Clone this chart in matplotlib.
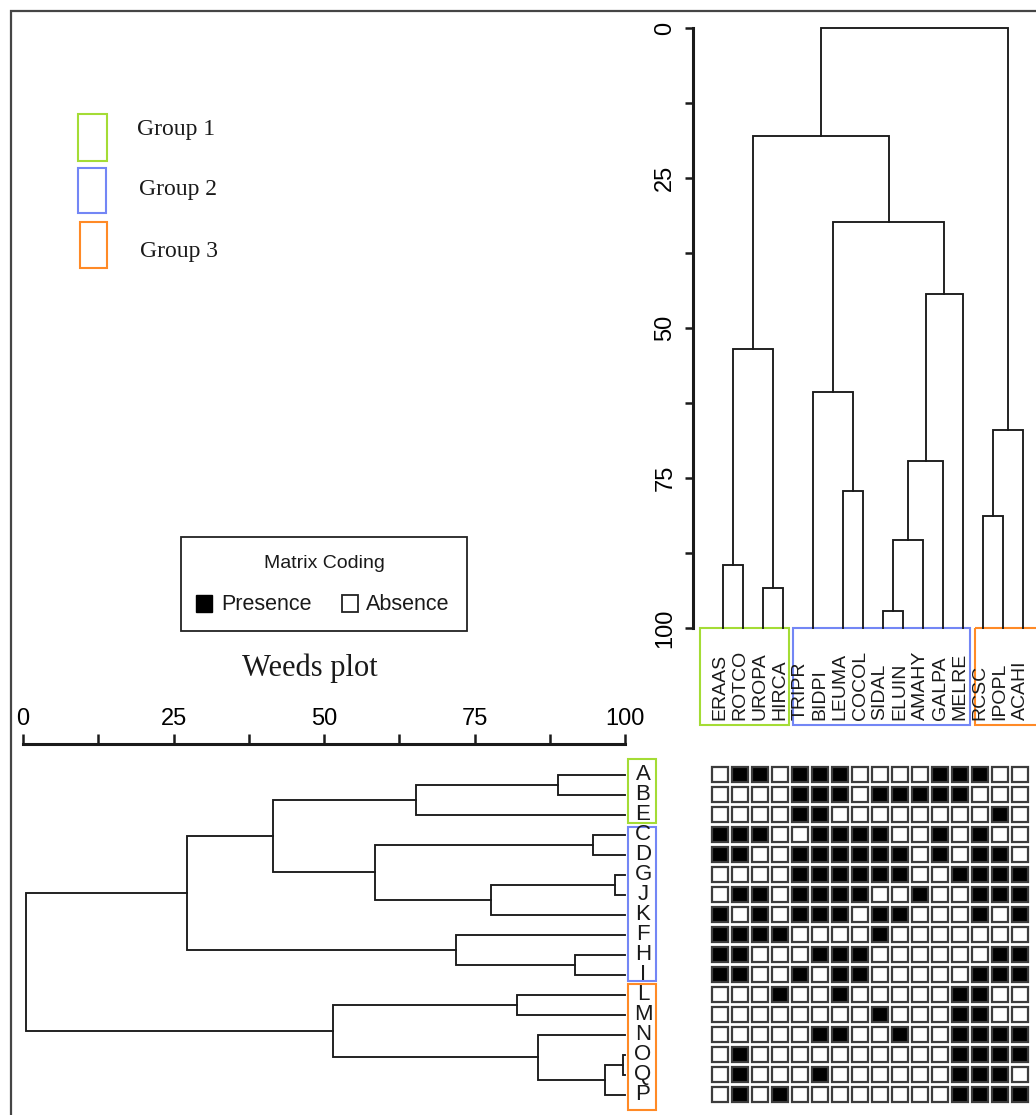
import matplotlib
matplotlib.use("Agg")
import matplotlib.pyplot as plt
from matplotlib.patches import Rectangle
import numpy as np

W, H, DPI = 1036, 1115, 100

# ---------------- data ----------------
species = ["ERAAS", "ROTCO", "UROPA", "HIRCA", "TRIPR", "BIDPI", "LEUMA", "COCOL",
           "SIDAL", "ELUIN", "AMAHY", "GALPA", "MELRE", "RCSC", "IPOPL", "ACAHI"]
species_group = [1, 1, 1, 1, 2, 2, 2, 2, 2, 2, 2, 2, 2, 3, 3, 3]

plots = ["A", "B", "E", "C", "D", "G", "J", "K", "F", "H", "I",
         "L", "M", "N", "O", "Q", "P"]
plot_group = [1, 1, 1, 2, 2, 2, 2, 2, 2, 2, 2, 3, 3, 3, 3, 3, 3]

# presence (1) / absence (0) matrix, rows = plots, cols = species
presence = [
    "0110111000011100",  # A
    "0000111011111000",  # B
    "0000110000000010",  # E
    "1110011110010100",  # C
    "1100111111010110",  # D
    "0000111111001111",  # G
    "0110111100100111",  # J
    "1010111011000101",  # K
    "1111000010000000",  # F
    "1100011100000011",  # H
    "1100101100000111",  # I
    "0001001000001100",  # L
    "0000000010001100",  # M
    "0000011001001111",  # N
    "0100000000001111",  # O
    "0100010000001110",  # Q
    "0101000000001111",  # P
]

# species dendrogram (similarity %), leaves as drawn (in species-column units)
species_leaf_x = [0.15, 1.15, 2.15, 3.15, 4.65, 6.15, 7.15, 8.15,
                  9.15, 10.15, 11.15, 12.15, 13.15, 14.15, 15.15]
species_merges = [(0, 1, 89.5), (2, 3, 93.3), (15, 16, 53.5), (5, 6, 77.1),
                  (4, 18, 60.6), (7, 8, 97.1), (20, 9, 85.4), (21, 10, 72.1),
                  (22, 11, 44.4), (19, 23, 32.3), (17, 24, 18.0), (12, 13, 81.4),
                  (26, 14, 67.0), (25, 27, 0.0)]

# plot dendrogram (similarity %), leaves = rows in `plots` order
plot_merges = [(0, 1, 88.8), (17, 2, 65.2), (3, 4, 94.7), (5, 6, 98.3),
               (20, 7, 77.8), (19, 21, 58.5), (18, 22, 41.6), (9, 10, 91.7),
               (8, 24, 71.9), (23, 25, 27.3), (11, 12, 82.1), (14, 15, 99.6),
               (28, 16, 96.7), (13, 29, 85.5), (27, 30, 51.5), (26, 31, 0.5)]

axis_ticks = [0, 25, 50, 75, 100]
axis_minor = [12.5, 37.5, 62.5, 87.5]

group_names = ["Group 1", "Group 2", "Group 3"]
group_colors = {1: "#a4dc35", 2: "#7386f5", 3: "#ff8a26"}

# ---------------- helpers ----------------
SANS = "Liberation Sans"
SERIF = "Liberation Serif"
INK = "#1a1a1a"

fig = plt.figure(figsize=(W / DPI, H / DPI), dpi=DPI)


def px_axes(x0, x1, y0, y1):
    return fig.add_axes([x0 / W, 1 - y1 / H, (x1 - x0) / W, (y1 - y0) / H])


def lin(p, p1, d1, p2, d2):
    return d1 + (p - p1) * (d2 - d1) / (p2 - p1)


def dendro_paths(leaf_pos, merges, leaf_h=100.0):
    pos = list(leaf_pos)
    hgt = [leaf_h] * len(leaf_pos)
    paths = []
    for a, b, h in merges:
        paths.append(([pos[a], pos[a], pos[b], pos[b]], [hgt[a], h, h, hgt[b]]))
        pos.append((pos[a] + pos[b]) / 2.0)
        hgt.append(h)
    return paths


# column mapping: species column c at px 720 + 20 c ; row k at px 774.5 + 20 k
def col_from_px(p):
    return lin(p, 720, 0, 740, 1)


def row_from_px(p):
    return lin(p, 774.5, 0, 794.5, 1)


# ---------------- overlay (frame, legends, titles) ----------------
ov = fig.add_axes([0, 0, 1, 1])
ov.set_xlim(0, W)
ov.set_ylim(H, 0)
ov.axis("off")
ov.plot([11, 11, W + 5], [H + 5, 11, 11], color="#454545", lw=1.6,
        solid_joinstyle="miter", clip_on=False)

legend_boxes = [(78, 114, 29, 47), (78, 168, 28, 45), (80, 222, 27, 46)]
legend_text_pos = [(137, 129), (139, 190), (140, 252)]
for g, (bx, by, bw, bh), (tx, ty), name in zip([1, 2, 3], legend_boxes,
                                               legend_text_pos, group_names):
    ov.add_patch(Rectangle((bx, by), bw, bh, fill=False,
                           edgecolor=group_colors[g], lw=1.5))
    ov.text(tx, ty, name, fontsize=17, family=SERIF, va="center", ha="left",
            color=INK)

# matrix coding legend
ov.add_patch(Rectangle((181, 537), 286, 94, fill=False, edgecolor="#222222", lw=1.3))
ov.text(324, 564, "Matrix Coding", fontsize=14, family=SANS, ha="center",
        va="center", color=INK)
ov.add_patch(Rectangle((196, 595), 16, 17, facecolor="black", edgecolor="black", lw=1))
ov.text(221, 604, "Presence", fontsize=15.5, family=SANS, ha="left", va="center",
        color=INK)
ov.add_patch(Rectangle((342, 595), 16, 17, facecolor="white", edgecolor="#222222", lw=1.3))
ov.text(366, 604, "Absence", fontsize=15.5, family=SANS, ha="left", va="center",
        color=INK)

ov.text(310, 668, "Weeds plot", fontsize=22, family=SERIF, ha="center",
        va="center", color=INK)

# ---------------- species dendrogram (top right) ----------------
axT = px_axes(693, W, 28, 628)
axT.set_xlim(col_from_px(693), col_from_px(W))
axT.set_ylim(100, 0)
for s in ["top", "right", "bottom"]:
    axT.spines[s].set_visible(False)
axT.spines["left"].set_linewidth(2.2)
axT.spines["left"].set_color(INK)
axT.set_xticks([])
axT.set_yticks(axis_ticks)
axT.set_yticks(axis_minor, minor=True)
axT.set_yticklabels([str(t) for t in axis_ticks], rotation=90, va="center",
                    fontsize=17, family=SANS)
axT.tick_params(axis="y", which="both", direction="out", length=6, width=1.8,
                pad=6, color=INK)
axT.patch.set_alpha(0)

for xs, ys in dendro_paths(species_leaf_x, species_merges):
    axT.plot(xs, ys, color=INK, lw=1.35, clip_on=False, solid_joinstyle="miter")

lab_bottom = lin(720, 28, 0, 628, 100)
box_bottom = lin(725, 28, 0, 628, 100)
for c, name in enumerate(species):
    axT.text(c, lab_bottom, name, rotation=90, ha="center", va="bottom",
             fontsize=14, family=SANS, color=INK, clip_on=False)

species_box_px = {1: (700, 789), 2: (793, 970), 3: (975, W + 10)}
for g, (p0, p1) in species_box_px.items():
    c0, c1 = col_from_px(p0), col_from_px(p1)
    axT.add_patch(Rectangle((c0, 100), c1 - c0, box_bottom - 100, fill=False,
                            edgecolor=group_colors[g], lw=1.5, clip_on=False))

# ---------------- plot dendrogram (bottom left) ----------------
axL = px_axes(23, 625, 744, H)
axL.set_xlim(0, 100)
axL.set_ylim(row_from_px(H), row_from_px(744))
for s in ["left", "right", "bottom"]:
    axL.spines[s].set_visible(False)
axL.spines["top"].set_linewidth(2.2)
axL.spines["top"].set_color(INK)
axL.xaxis.set_ticks_position("top")
axL.set_yticks([])
axL.set_xticks(axis_ticks)
axL.set_xticks(axis_minor, minor=True)
axL.set_xticklabels([str(t) for t in axis_ticks], fontsize=17, family=SANS)
axL.tick_params(axis="x", which="both", direction="out", length=7, width=1.8,
                pad=3, color=INK)
axL.patch.set_alpha(0)

for ys, xs in dendro_paths(list(range(len(plots))), plot_merges):
    axL.plot(xs, ys, color=INK, lw=1.35, clip_on=False, solid_joinstyle="miter")

lab_x = lin(643, 23, 0, 625, 100)
for k, name in enumerate(plots):
    axL.text(lab_x, k, name, ha="center", va="center", fontsize=16,
             family=SANS, color=INK, clip_on=False)

plot_box_px = {1: (759, 823), 2: (827, 981), 3: (984, 1110)}
bx0, bx1 = lin(628, 23, 0, 625, 100), lin(656, 23, 0, 625, 100)
for g, (p0, p1) in plot_box_px.items():
    r0, r1 = row_from_px(p0), row_from_px(p1)
    axL.add_patch(Rectangle((bx0, r0), bx1 - bx0, r1 - r0, fill=False,
                            edgecolor=group_colors[g], lw=1.5, clip_on=False))

# ---------------- presence / absence matrix ----------------
axM = px_axes(700, W, 744, H)
axM.set_xlim(col_from_px(700), col_from_px(W))
axM.set_ylim(row_from_px(H), row_from_px(744))
axM.axis("off")
mat = np.array([[int(ch) for ch in row] for row in presence])
s = 0.76
for k in range(mat.shape[0]):
    for c in range(mat.shape[1]):
        fc = "black" if mat[k, c] else "white"
        axM.add_patch(Rectangle((c - s / 2, k - s / 2), s, s, facecolor=fc,
                                edgecolor="#3c3c3c", lw=1.6))

fig.savefig("out.png", dpi=DPI)
